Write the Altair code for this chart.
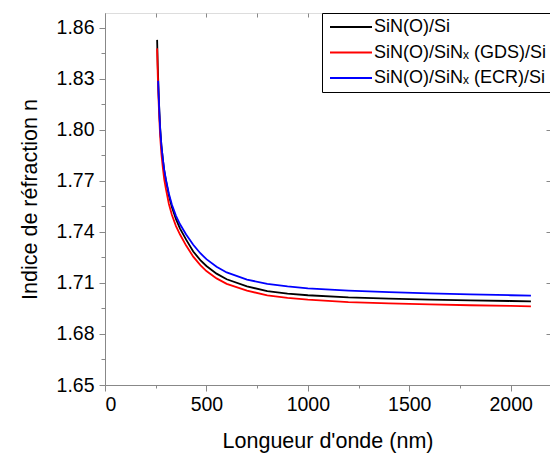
import altair as alt
import pandas as pd

# ---- data ----
series_names = ["SiN(O)/Si", "SiN(O)/SiNₓ (GDS)/Si", "SiN(O)/SiNₓ (ECR)/Si"]
series_colors = ["#000000", "#ff0000", "#0000ff"]

wl_black = [257, 260, 264, 268, 272, 278, 285, 292, 300, 315, 330, 350, 370, 400, 435, 470,
            500, 550, 600, 700, 800, 900, 1000, 1200, 1400, 1600, 1800, 2000, 2100]
n_black = [1.853, 1.838, 1.823, 1.811, 1.801, 1.791, 1.783, 1.776, 1.7705, 1.7615, 1.7545,
           1.7475, 1.742, 1.7355, 1.7285, 1.7235, 1.7200, 1.7155, 1.7122, 1.7080, 1.7052,
           1.7038, 1.7028, 1.7015, 1.7008, 1.7002, 1.6998, 1.6994, 1.6992]

wl_red = [257, 260, 264, 268, 272, 278, 285, 292, 300, 315, 330, 350, 370, 400, 435, 470,
          500, 550, 600, 700, 800, 900, 1000, 1200, 1400, 1600, 1800, 2000, 2100]
n_red = [1.848, 1.833, 1.818, 1.806, 1.796, 1.786, 1.778, 1.771, 1.7655, 1.7565, 1.7500,
         1.7435, 1.7385, 1.7320, 1.7255, 1.7205, 1.7170, 1.7127, 1.7095, 1.7055, 1.7027,
         1.7012, 1.7002, 1.6988, 1.6980, 1.6974, 1.6969, 1.6965, 1.6963]

wl_blue = [262, 264, 268, 272, 278, 285, 292, 300, 315, 330, 350, 370, 400, 435, 470,
           500, 550, 600, 700, 800, 900, 1000, 1200, 1400, 1600, 1800, 2000, 2100]
n_blue = [1.829, 1.822, 1.8105, 1.8005, 1.791, 1.783, 1.7765, 1.771, 1.7625, 1.756, 1.7495,
          1.7445, 1.7385, 1.7325, 1.7275, 1.7240, 1.7195, 1.7162, 1.7120, 1.7095, 1.7080,
          1.7068, 1.7055, 1.7046, 1.7039, 1.7033, 1.7028, 1.7026]

x_major = [0, 500, 1000, 1500, 2000]
x_minor = [250, 750, 1250, 1750]
x_all = [0, 250, 500, 750, 1000, 1250, 1500, 1750, 2000]
y_major = [1.65, 1.68, 1.71, 1.74, 1.77, 1.80, 1.83, 1.86]
y_minor = [1.665, 1.695, 1.725, 1.755, 1.785, 1.815, 1.845]

x_domain = [0, 2194]
y_domain = [1.65, 1.8688]

rows = []
for name, wl, nn in zip(series_names, [wl_black, wl_red, wl_blue], [n_black, n_red, n_blue]):
    for a, b in zip(wl, nn):
        rows.append({"serie": name, "wl": a, "n": b})
df = pd.DataFrame(rows)

FONT = "Liberation Sans"

xs = alt.Scale(domain=x_domain, nice=False, zero=False)
ys = alt.Scale(domain=y_domain, nice=False, zero=False)

base = alt.Chart(df)

lines = base.mark_line(strokeWidth=1.8, clip=True).encode(
    x=alt.X("wl:Q", scale=xs, axis=alt.Axis(
        orient="bottom", values=x_major, format="d", tickSize=6, labelFontSize=19.5, labelPadding=4,
        title="Longueur d'onde (nm)", titleFontSize=21.5, titlePadding=17, titleFontWeight="normal",
        grid=False)),
    y=alt.Y("n:Q", scale=ys, axis=alt.Axis(
        orient="left", values=y_major, format=".2f", tickSize=6, labelFontSize=19.5, labelPadding=5,
        title="Indice de réfraction n", titleFontSize=21.5, titlePadding=15, titleFontWeight="normal",
        grid=False)),
    color=alt.Color("serie:N", sort=series_names,
                    scale=alt.Scale(domain=series_names, range=series_colors),
                    legend=alt.Legend(
                        title=None, orient="none", legendX=217, legendY=0,
                        strokeColor="#000000", fillColor="#ffffff", padding=5,
                        symbolType="M-5.25,0L5.25,0", symbolSize=64, symbolStrokeWidth=2,
                        symbolOffset=15,
                        labelFontSize=18, labelFont=FONT, labelColor="#000000",
                        rowPadding=7.5, labelOffset=14, labelLimit=400)),
)

ghost = base.mark_point(opacity=0)

minor_left = ghost.encode(
    x=alt.X("wl:Q", scale=xs, axis=None),
    y=alt.Y("n:Q", scale=ys, axis=alt.Axis(
        orient="left", values=y_minor, labels=False, domain=False, tickSize=4,
        title=None, grid=False)),
)
right_ticks = ghost.encode(
    x=alt.X("wl:Q", scale=xs, axis=None),
    y=alt.Y("n:Q", scale=ys, axis=alt.Axis(
        orient="right", values=y_major, labels=False, domain=False, tickSize=4,
        offset=-4, title=None, grid=False)),
)
minor_bottom = ghost.encode(
    x=alt.X("wl:Q", scale=xs, axis=alt.Axis(
        orient="bottom", values=x_minor, labels=False, domain=False, tickSize=3,
        title=None, grid=False)),
    y=alt.Y("n:Q", scale=ys, axis=None),
)
top_ticks = ghost.encode(
    x=alt.X("wl:Q", scale=xs, axis=alt.Axis(
        orient="top", values=x_all, labels=False, domain=False, tickSize=4,
        offset=-4, title=None, grid=False)),
    y=alt.Y("n:Q", scale=ys, axis=None),
)

chart = (
    alt.layer(lines, minor_left, right_ticks, minor_bottom, top_ticks)
    .resolve_scale(x="shared", y="shared")
    .resolve_axis(x="independent", y="independent")
    .properties(width=445, height=372, autosize="none",
                padding={"left": 97, "top": 5, "right": 0, "bottom": 71})
    .configure_view(stroke="#000000", strokeWidth=1)
    .configure_axis(labelFont=FONT, titleFont=FONT, labelColor="#000000", titleColor="#000000",
                    tickColor="#000000", domainColor="#000000", titleFontWeight="normal",
                    domainWidth=1, tickWidth=1)
    .configure(background="#ffffff")
)

chart.save("out.html", embed_options={"renderer": "svg", "actions": False})
